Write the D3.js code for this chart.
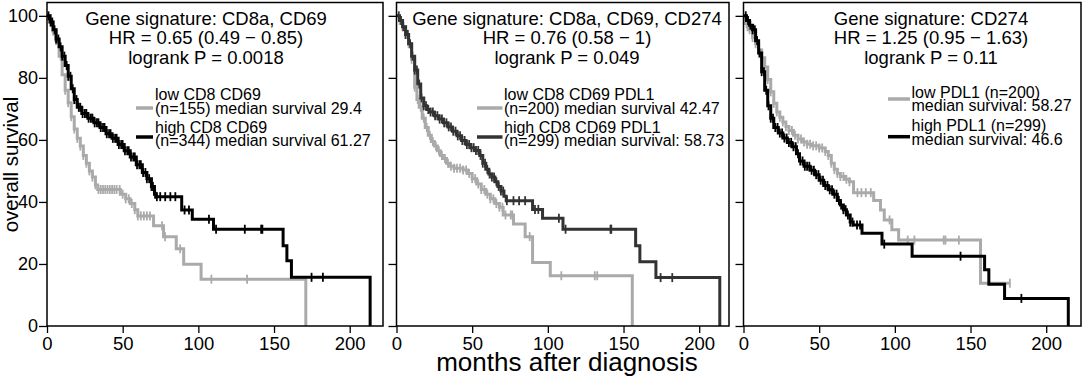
<!DOCTYPE html>
<html>
<head>
<meta charset="utf-8">
<script src="https://cdn.jsdelivr.net/npm/d3@7"></script>
<style>
  body { margin: 0; background: #fff; }
  text { font-family: "Liberation Sans", Arial, sans-serif; fill: #000; }
</style>
</head>
<body>
<script>
// Axis ticks
const monthTicks = [0, 50, 100, 150, 200];
const survivalTicks = [0, 20, 40, 60, 80, 100];

// Panel texts
const titles = [
    ["Gene signature: CD8a, CD69", "HR = 0.65 (0.49 \u2212 0.85)", "logrank P = 0.0018"],
    ["Gene signature: CD8a, CD69, CD274", "HR = 0.76 (0.58 \u2212 1)", "logrank P = 0.049"],
    ["Gene signature: CD274", "HR = 1.25 (0.95 \u2212 1.63)", "logrank P = 0.11"]
];
const lowLabels = [
    ["low CD8 CD69", "(n=155) median survival 29.4"],
    ["low CD8 CD69 PDL1", "(n=200) median survival 42.47"],
    ["low PDL1 (n=200)", "median survival: 58.27"]
];
const highLabels = [
    ["high CD8 CD69", "(n=344) median survival 61.27"],
    ["high CD8 CD69 PDL1", "(n=299) median survival: 58.73"],
    ["high PDL1 (n=299)", "median survival: 46.6"]
];

// Kaplan-Meier steps: [months, survival %]
const cd69Low = [[0,100],[2,98],[4,95],[6,92],[8,87],[10,81],[12,76],[14,72],[16,67.5],[18,63.5],[20,60.5],[22,58],[24,55],[26,52.5],[28,50],[30,48],[32,45.5],[33.5,44],[48.5,42.5],[52,41],[55,39.5],[58,37.5],[60,35.5],[70.4,32.3],[77,28.8],[85.4,24.9],[90.3,19.9],[101.8,15.1],[171,0]];
const cd69LowCensor = [2,4,6,9,12,14,16,18,20,22,24,26,28,30,32,34,35.5,37,38.5,40,41.5,43,44.5,46,48,50,52,54,56,58,60,62,64,66,68,76,78,88,108.6,132.2];
const cd69High = [[0,100],[2,98],[4,95.5],[6,92.5],[8,90],[10,87],[12,84],[14,80.5],[16,76.5],[18,73],[20,70.5],[23,68.5],[27,67],[31,65.5],[35,64],[39,62],[43,60.5],[47,58.5],[51,56.5],[55,54.5],[59,52],[63,49.5],[66,47.5],[69,45],[71,42.5],[72,41.7],[89,37.4],[96,34.4],[110,31.2],[156,25.9],[158.5,21],[161.5,15.7],[213.5,0]];
const cd69HighCensor = [1,2.5,3.5,5,6,7.5,9,10,11.5,13,14,15.5,17,18,19.5,21,22,23.5,25,26,27.5,29,30,31.5,33,34,35.5,37,38,39.5,41,42,43.5,45,46,47.5,49,50,51.5,53,54,55.5,57,58,59.5,61,62,63.5,65,66,67.5,69,70,71.5,72.6,74.8,78.1,81.5,84.8,90.9,93.8,107,111.7,130.7,141.5,142.3,174.8,182.3];

const pdl1SigLow = [[0,100],[2,98.5],[4,96.5],[6,94],[8,91],[10,86],[12,77],[13.5,73],[15,70.5],[17,67],[19,64],[21,61.5],[23,59.5],[25,58],[27,56.5],[29,55],[31,54],[33,52.5],[35,51.5],[38,50.9],[44,50.3],[47,49.2],[50,47.5],[53,45.8],[56,44],[59,42.5],[62,41],[65,39.5],[68,38.3],[70.5,35.8],[77.3,32.9],[85,28.8],[89.9,20.5],[101.6,16.2],[155.8,0]];
const pdl1SigLowCensor = [2,4,6,8,10,12,14,16,18,20,22,24,26,28,30,32,34,36,38,40,42,44,46,48,50,52,54,56,58,60,62,64,66,68,70,72,75.5,76.5,88,108.9,131,132.6];
const pdl1SigHigh = [[0,100],[2,98.5],[4,96.5],[6,94],[8,91],[10,87],[12,82.5],[14,78],[16,73.5],[18,71],[20,69.8],[22,69],[25,67.8],[28,66.7],[31,65.5],[34,64.2],[37,62.8],[40,61.3],[43,59.8],[46,58.5],[49,57.5],[52,56.6],[55,55],[57,52.5],[59,50.5],[61,49],[63,48],[65,46.5],[67,45],[69,43.5],[71,41.8],[72.5,40.4],[89.9,37.6],[96.5,34.7],[110,31.2],[158,25.9],[160.8,20.7],[171.4,15.6],[213.6,0]];
const pdl1SigHighCensor = [1.5,3,4.5,6,7.5,9,10.5,12,13.5,15,16.5,18,19.5,21,22.5,24,25.5,27,28.5,30,31.5,33,34.5,36,37.5,39,40.5,42,43.5,45,46.5,48,49.5,51,52.5,54,55.5,57,58.5,60,61.5,63,64.5,66,67.5,69,70.5,72.9,77.3,81,85,91.5,93.7,107.3,111.7,141.4,141.9,174.5,182.2];

const cd274Low = [[0,100],[1,97.5],[3,95.5],[6,93],[8,91],[10,89],[12,86.5],[14,83.5],[16,79.5],[18,75.5],[20,71.8],[22,69],[24,67.3],[26,65.8],[28,64.3],[30,63],[33,61.5],[36,60.3],[39,59.3],[42,58.6],[45,58.1],[50,57.4],[54,56.3],[56,55],[58,52.5],[60,50.5],[62,49.2],[64,48.2],[67,47.3],[70,46.5],[72.7,43],[86,40.5],[90.5,37.4],[93,34.2],[98,31],[102.5,27.7],[156.6,13.8],[176,13.8]];
const cd274LowCensor = [2,4,6,8,10,12,14,16,18,20,22,24,26,28,30,32,34,36,38,40,42,44,46,48,50,52,54,56,58,60,62,64,66,68,70,75.3,77.9,80.8,84.1,96.5,108.5,112.9,132.3,133.4,142.3,176];
const cd274High = [[0,100],[2,98.5],[4,97],[6,95.5],[8,92],[10,88],[12,82],[14,76],[16,71],[18,67],[20,64],[23,62.2],[26,60.6],[29,59.2],[32,57.8],[35,55.5],[37,53.2],[40,51.5],[44,50.2],[47,48.8],[50,47],[53,45.3],[56,43.9],[59,42.5],[62,40.5],[64,39],[66,37.5],[68,35.8],[70.5,33.5],[72.5,32.6],[78.3,29.9],[91.5,26.4],[111.4,22.5],[159.3,18.1],[162.1,13.5],[172.5,8.9],[214.6,0]];
const cd274HighCensor = [1.5,3,4.5,6,7.5,9,10.5,12,13.5,15,16.5,18,19.5,21,22.5,24,25.5,27,28.5,30,31.5,33,34.5,36,37.5,39,40.5,42,43.5,45,46.5,48,49.5,51,52.5,54,55.5,57,58.5,60,61.5,63,64.5,66,67.5,69,70.5,72,75,77,93,143.4,183.6];

// Layout of the three panels
const panels = [
    { left: 47, right: 383, titleX: 206, lineX: [136, 153], textX: 155, lowY: [100, 113.5, 108], highY: [132.5, 146, 137], highColor: "#000",
      low: cd69Low, lowCensor: cd69LowCensor, high: cd69High, highCensor: cd69HighCensor },
    { left: 396.5, right: 729, titleX: 567, lineX: [477, 502.5], textX: 504, lowY: [100, 113.5, 108], highY: [132.5, 146, 137], highColor: "#333",
      low: pdl1SigLow, lowCensor: pdl1SigLowCensor, high: pdl1SigHigh, highCensor: pdl1SigHighCensor },
    { left: 743.5, right: 1081, titleX: 931, lineX: [888, 910], textX: 911.5, lowY: [97.5, 111, 99], highY: [131, 144.5, 136.7], highColor: "#000",
      low: cd274Low, lowCensor: cd274LowCensor, high: cd274High, highCensor: cd274HighCensor }
];
const lowColor = "#aaaaaa";
const plotTop = 2.5, plotBottom = 326;

const svg = d3.select("body").append("svg")
    .attr("width", 1084)
    .attr("height", 379);

const y = d3.scaleLinear().domain([0, 104.3]).range([plotBottom, plotTop]);

// survival value of a step curve at time t
function stepAt(steps, t) {
    let s = steps[0][1];
    steps.forEach(d => { if (d[0] <= t) s = d[1]; });
    return s;
}

panels.forEach((p, i) => {
    const x = d3.scaleLinear().domain([0, 222]).range([p.left, p.left + 336]);
    const g = svg.append("g");

    // x axis
    const xa = g.append("g")
        .attr("transform", `translate(0,${plotBottom})`)
        .call(d3.axisBottom(x).tickValues(monthTicks).tickSize(7).tickPadding(4));
    xa.select(".domain").remove();
    xa.selectAll("line").attr("stroke", "#000").attr("stroke-width", 1.3);
    xa.selectAll("text").attr("font-size", 18.5).attr("font-family", "Liberation Sans, Arial, sans-serif");

    // y axis (labels only on the first panel)
    const ya = g.append("g")
        .attr("transform", `translate(${p.left},0)`)
        .call(d3.axisLeft(y).tickValues(survivalTicks).tickSize(8).tickPadding(1)
            .tickFormat(i === 0 ? d3.format("d") : ""));
    ya.select(".domain").remove();
    ya.selectAll("line").attr("stroke", "#000").attr("stroke-width", 1.3);
    ya.selectAll("text").attr("font-size", 18).attr("font-family", "Liberation Sans, Arial, sans-serif");

    // curves
    const line = d3.line()
        .x(d => x(d[0]))
        .y(d => y(d[1]))
        .curve(d3.curveStepAfter);

    const groups = [
        { steps: p.low, censor: p.lowCensor, color: lowColor },
        { steps: p.high, censor: p.highCensor, color: p.highColor }
    ];
    groups.forEach(c => {
        g.append("path")
            .attr("d", line(c.steps))
            .attr("fill", "none")
            .attr("stroke", c.color)
            .attr("stroke-width", 3);
        g.selectAll(null)
            .data(c.censor)
            .enter()
            .append("line")
            .attr("x1", d => x(d)).attr("x2", d => x(d))
            .attr("y1", d => y(stepAt(c.steps, d)) - 4.5)
            .attr("y2", d => y(stepAt(c.steps, d)) + 4.5)
            .attr("stroke", c.color)
            .attr("stroke-width", 1.8);
    });

    // frame
    g.append("rect")
        .attr("x", p.left).attr("y", plotTop)
        .attr("width", p.right - p.left).attr("height", plotBottom - plotTop)
        .attr("fill", "none")
        .attr("stroke", "#000")
        .attr("stroke-width", 1.5);

    // title block
    titles[i].forEach((t, k) => {
        g.append("text")
            .attr("x", p.titleX)
            .attr("y", 25 + k * 19.3)
            .attr("text-anchor", "middle")
            .attr("font-size", 18.5)
            .text(t);
    });

    // legend
    [[lowLabels[i], p.lowY, lowColor], [highLabels[i], p.highY, p.highColor]].forEach(([labels, ys, color]) => {
        g.append("line")
            .attr("x1", p.lineX[0]).attr("x2", p.lineX[1])
            .attr("y1", ys[2]).attr("y2", ys[2])
            .attr("stroke", color)
            .attr("stroke-width", 3.5);
        labels.forEach((t, k) => {
            g.append("text")
                .attr("x", p.textX)
                .attr("y", ys[k])
                .attr("font-size", 16)
                .text(t);
        });
    });
});

// axis titles
svg.append("text")
    .attr("transform", "translate(18,164.5) rotate(-90)")
    .attr("text-anchor", "middle")
    .attr("font-size", 20.5)
    .text("overall survival");

svg.append("text")
    .attr("x", 567)
    .attr("y", 371)
    .attr("text-anchor", "middle")
    .attr("font-size", 26)
    .text("months after diagnosis");
</script>
</body>
</html>
